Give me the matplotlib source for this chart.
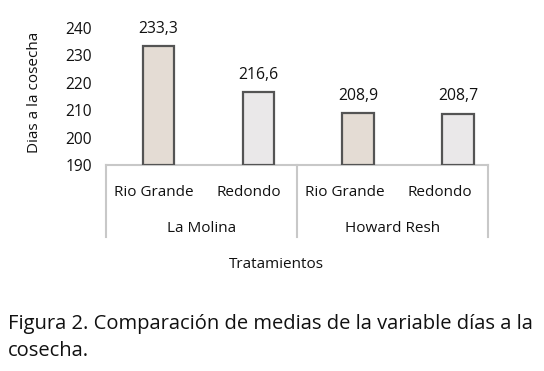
import numpy as np
import matplotlib.pyplot as plt
from matplotlib.transforms import blended_transform_factory

plt.rcParams['font.family'] = ['Open Sans', 'DejaVu Sans']

# datos
variedades = ['Rio Grande', 'Redondo', 'Rio Grande', 'Redondo']
localidades = ['La Molina', 'Howard Resh']
dias = [233.3, 216.6, 208.9, 208.7]
etiquetas = ['233,3', '216,6', '208,9', '208,7']
yticks = [190, 200, 210, 220, 230, 240]

W, H = 544, 371
fig = plt.figure(figsize=(W / 100, H / 100), dpi=100)
ax = fig.add_axes([106 / W, 1 - 165 / H, (488 - 106) / W, (165 - 28) / H])

colores = ['#e4dcd4', '#eae8e9', '#e4dcd4', '#eae8e9']
pos = np.arange(len(dias)) * 1.045 + 0.05
ax.bar(pos, [d - 190 for d in dias], bottom=190, width=0.33,
       color=colores, edgecolor='#545454', linewidth=1.6, zorder=3)

for x, d, t in zip(pos, dias, etiquetas):
    ax.text(x, d + 6.3, t, ha='center', va='center', fontsize=11.3,
            color='#111111', clip_on=False)

ax.set_xlim(-0.5, 3.5)
ax.set_ylim(190, 240)
ax.set_yticks(yticks)
ax.tick_params(axis='y', length=0, pad=10, labelsize=11.2, labelcolor='#111111')
ax.set_xticks([])
for s in ['top', 'right', 'left']:
    ax.spines[s].set_visible(False)
ax.spines['bottom'].set_color('#c8c8c8')
ax.spines['bottom'].set_linewidth(1.5)

# caja de categorias
tr = blended_transform_factory(ax.transData, ax.transAxes)
caja = -72 / 137
for xv in [-0.5, 1.5, 3.5]:
    ax.plot([xv, xv], [0, caja], transform=tr, color='#c8c8c8', lw=1.5,
            clip_on=False)
for i, v in enumerate(variedades):
    ax.text(i, -27 / 137, v, transform=tr, ha='center', va='center',
            fontsize=11, color='#111111')
for j, l in enumerate(localidades):
    ax.text(2 * j + 0.5, -63 / 137, l, transform=tr, ha='center',
            va='center', fontsize=11, color='#111111')

fig.text(276 / W, 1 - 265 / H, 'Tratamientos', ha='center', va='center',
         fontsize=11, color='#111111')
fig.text(35 / W, 1 - 92 / H, 'Dias a la cosecha', ha='center', va='center',
         rotation=90, fontsize=11, color='#111111')

fig.text(8 / W, 1 - 324 / H,
         'Figura 2. Comparación de medias de la variable días a la',
         ha='left', va='center', fontsize=14.5, color='#111111')
fig.text(8 / W, 1 - 351 / H, 'cosecha.', ha='left', va='center',
         fontsize=14.5, color='#111111')

fig.savefig('out.png', dpi=100, facecolor='white')
